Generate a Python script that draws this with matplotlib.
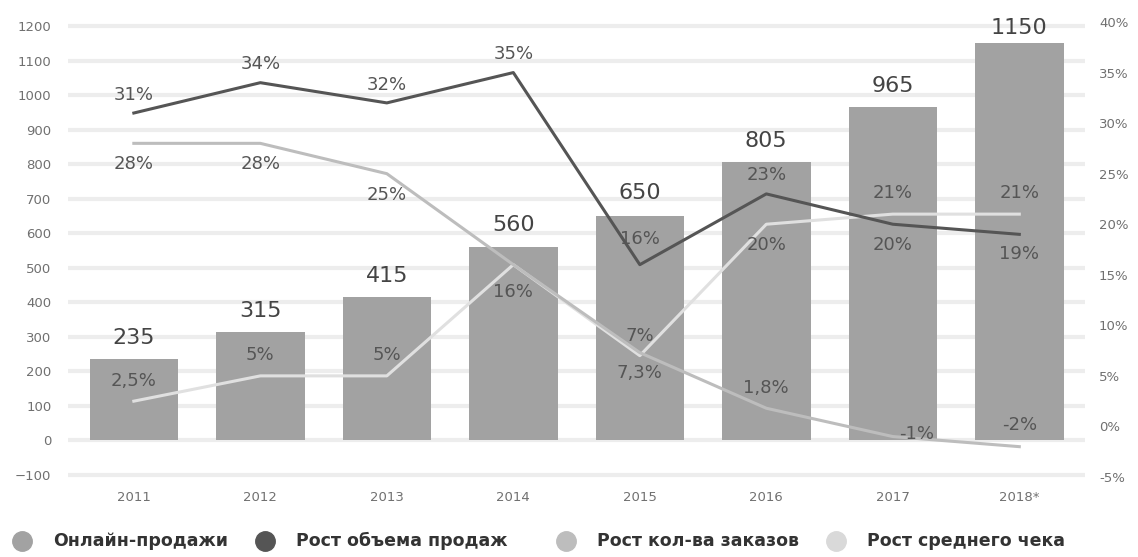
import matplotlib.pyplot as plt
from matplotlib.lines import Line2D

plt.rcParams['font.family'] = ['DejaVu Sans']

years = ['2011', '2012', '2013', '2014', '2015', '2016', '2017', '2018*']
online_sales = [235, 315, 415, 560, 650, 805, 965, 1150]
sales_growth = [31, 34, 32, 35, 16, 23, 20, 19]
orders_growth = [28, 28, 25, 16, 7.3, 1.8, -1, -2]
check_growth = [2.5, 5, 5, 16, 7, 20, 21, 21]

sales_labels = ['31%', '34%', '32%', '35%', '16%', '23%', '20%', '19%']
orders_labels = ['28%', '28%', '25%', '', '7,3%', '1,8%', '-1%', '-2%']
check_labels = ['2,5%', '5%', '5%', '16%', '7%', '20%', '21%', '21%']

legend_names = ['Онлайн-продажи', 'Рост объема продаж', 'Рост кол-ва заказов', 'Рост среднего чека']

bar_color = '#a2a2a2'
sales_color = '#555555'
orders_color = '#bdbdbd'
check_color = '#e0e0e0'
text_color = '#555555'
tick_color = '#707070'

fig = plt.figure(figsize=(11.38, 5.57), dpi=100)
ax = fig.add_axes([0.0598, 0.1382, 0.8937, 0.8259])
ax2 = ax.twinx()

x = list(range(len(years)))

# bars - online sales
ax.bar(x, online_sales, width=0.70, color=bar_color, zorder=2)
bar_lbl_off = [11, 11, 11, 12, 13, 11, 11, 5]
for i, v in enumerate(online_sales):
    ax.annotate(str(v), (i, v), xytext=(0, bar_lbl_off[i]), textcoords='offset pixels',
                ha='center', va='bottom', fontsize=16, color='#444444')

ax.set_xlim(-0.52, 7.52)
ax.set_ylim(-114.5, 1217.4)
ax.set_yticks(range(-100, 1201, 100))
ax.set_xticks(x)
ax.set_xticklabels(years)
ax.grid(axis='y', color='#ededed', linewidth=3)
ax.set_axisbelow(True)
for s in ax.spines.values():
    s.set_visible(False)
ax.tick_params(axis='y', length=0, pad=12, labelsize=9.5, labelcolor=tick_color)
ax.tick_params(axis='x', length=0, pad=8, labelsize=9.5, labelcolor=tick_color)

# growth lines on the right axis
ax2.plot(x, check_growth, color=check_color, linewidth=2.2, zorder=3)
ax2.plot(x, orders_growth, color=orders_color, linewidth=2.2, zorder=4)
ax2.plot(x, sales_growth, color=sales_color, linewidth=2.2, zorder=5)
ax2.set_ylim(-5.3, 40.2)
ax2.set_yticks(range(-5, 41, 5))
ax2.set_yticklabels([str(t) + '%' for t in range(-5, 41, 5)])
for s in ax2.spines.values():
    s.set_visible(False)
ax2.tick_params(axis='y', length=0, pad=10, labelsize=9.5, labelcolor=tick_color)

# label offsets in pixels (negative = below)
sales_off = [18, 19, 18, 19, 26, 19, -21, -20]
orders_off = [-21, -21, -21, 0, -20, 20, 3, 22]
orders_dx = [0, 0, 0, 0, 0, 0, 24, 0]
check_off = [20, 21, 21, -27, 20, -21, 21, 21]

def put_labels(vals, labels, offs, dx=None):
    for i, v in enumerate(vals):
        if labels[i] == '':
            continue
        d = 0 if dx is None else dx[i]
        ax2.annotate(labels[i], (i, v), xytext=(d, offs[i]), textcoords='offset pixels',
                     ha='center', va='center', fontsize=13, color=text_color, zorder=6)

put_labels(sales_growth, sales_labels, sales_off)
put_labels(orders_growth, orders_labels, orders_off, orders_dx)
put_labels(check_growth, check_labels, check_off)

# legend drawn by hand
leg_colors = [bar_color, sales_color, orders_color, '#d9d9d9']
leg_x = [22, 265, 566, 836]
for lx, c, name in zip(leg_x, leg_colors, legend_names):
    fig.add_artist(Line2D([lx / 1138], [1 - 541 / 557], marker='o', markersize=14,
                          color=c, linestyle='', transform=fig.transFigure))
    fig.text((lx + 31) / 1138, 1 - 541 / 557, name, ha='left', va='center',
             fontsize=12.5, fontweight='bold', color='#333333')

plt.savefig('out.png', dpi=100)
